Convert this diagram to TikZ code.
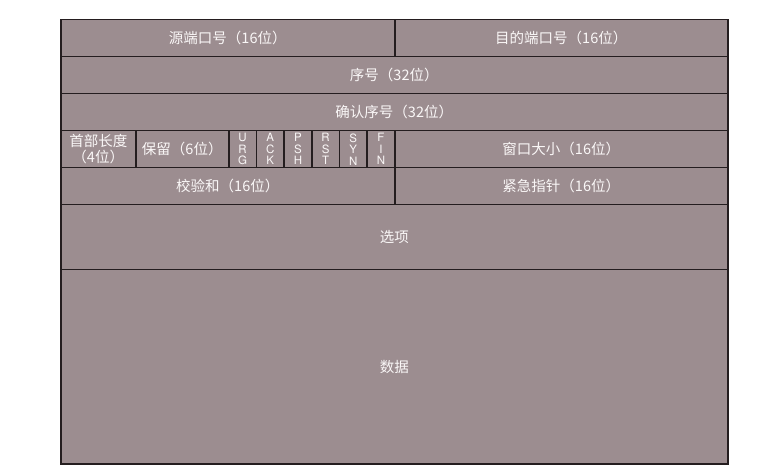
\documentclass[tikz,border=0pt]{standalone}
\usepackage{fontspec}
\setmainfont{Noto Sans CJK SC}
\newfontfamily\flagfont{TeX Gyre Heros}
\usetikzlibrary{calc}

\definecolor{cellfill}{HTML}{9C8D90}
\definecolor{cellline}{HTML}{241D1F}
\definecolor{celltext}{HTML}{FAF7F7}

\tikzset{
    field/.style={draw=cellline, fill=cellfill, line width=1.5pt, anchor=north west,
        inner sep=0pt, text=celltext, align=center,
        font=\fontsize{14.5}{15.5}\selectfont},
    flagbit/.style={field, minimum width=27.67pt, minimum height=37pt,
        font=\flagfont\fontsize{11.5}{11.5}\selectfont}
}

\begin{document}
\begin{tikzpicture}[x=1pt, y=-1pt]
    \useasboundingbox (0,0) rectangle (777,473);

    % ports
    \node[field, minimum width=334pt, minimum height=37pt] (src_port) at (60,19) {源端口号（16位）};
    \node[field, minimum width=333pt, minimum height=37pt] (dst_port) at (394,19) {目的端口号（16位）};

    % seq / ack
    \node[field, minimum width=667pt, minimum height=37pt] (seq_num) at (60,56) {序号（32位）};
    \node[field, minimum width=667pt, minimum height=37pt] (ack_num) at (60,93) {确认序号（32位）};

    % header length, reserved, flags, window
    \node[field, minimum width=75pt, minimum height=37pt] (hdr_len) at (60,130) {首部长度\\（4位）};
    \node[field, minimum width=93pt, minimum height=37pt] (reserved) at (135,130) {保留（6位）};
    \node[flagbit] (flag_urg) at (228,130) {U\\R\\G};
    \node[flagbit] (flag_ack) at (255.67,130) {A\\C\\K};
    \node[flagbit] (flag_psh) at (283.33,130) {P\\S\\H};
    \node[flagbit] (flag_rst) at (311,130) {R\\S\\T};
    \node[flagbit] (flag_syn) at (338.67,130) {S\\Y\\N};
    \node[flagbit] (flag_fin) at (366.33,130) {F\\I\\N};
    \node[field, minimum width=333pt, minimum height=37pt] (window) at (394,130) {窗口大小（16位）};

    % checksum / urgent pointer
    \node[field, minimum width=334pt, minimum height=37pt] (checksum) at (60,167) {校验和（16位）};
    \node[field, minimum width=333pt, minimum height=37pt] (urg_ptr) at (394,167) {紧急指针（16位）};

    % options, data
    \node[field, minimum width=667pt, minimum height=65pt] (options) at (60,204) {选项};
    \node[field, minimum width=667pt, minimum height=194pt] (data) at (60,269) {数据};
\end{tikzpicture}
\end{document}
